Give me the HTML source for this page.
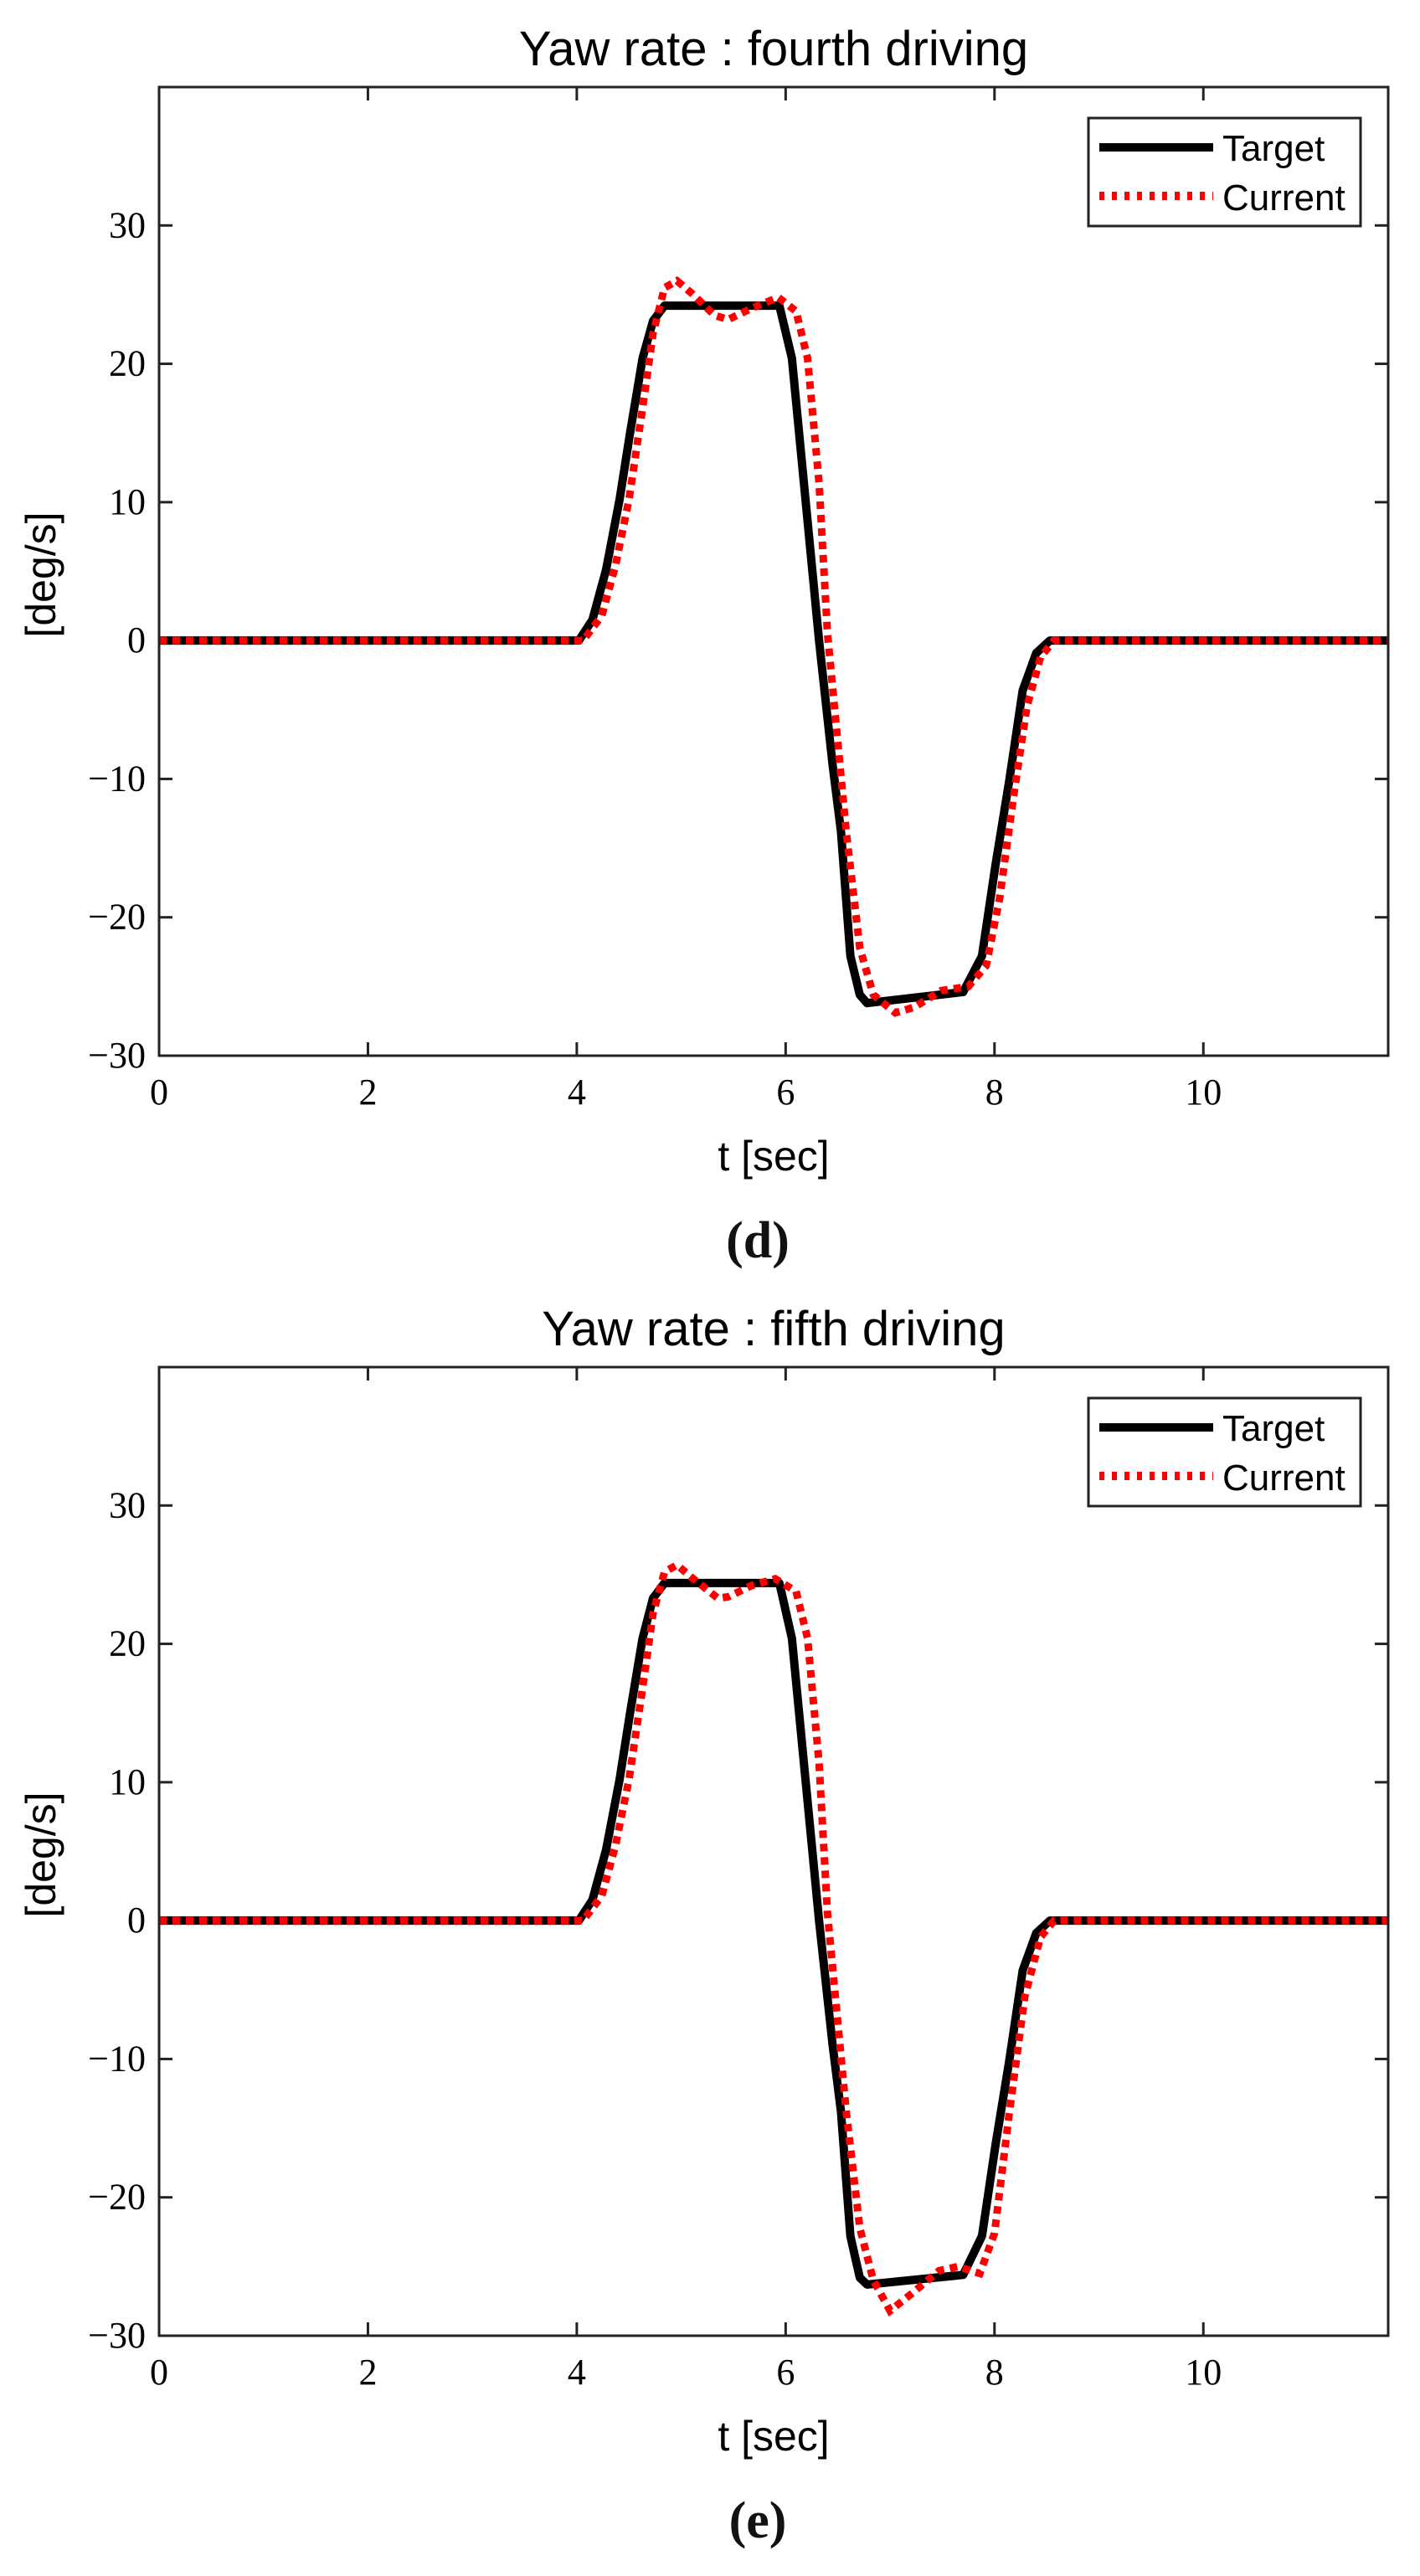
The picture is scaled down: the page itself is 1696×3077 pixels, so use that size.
<!DOCTYPE html>
<html><head><meta charset="utf-8"><style>
body{margin:0;background:#fff}
svg{display:block}
.tk{font-family:"Liberation Serif",serif;font-size:44px;fill:#000}
.lab{font-family:"Liberation Sans",sans-serif;fill:#000}
</style></head><body>
<svg id="fig" width="1696" height="3077" viewBox="0 0 1696 3077" xmlns="http://www.w3.org/2000/svg"></svg>
<script>
const xTicks=[0,2,4,6,8,10];
const yTicks=[-30,-20,-10,0,10,20,30];
const yTickLabels=["\u221230","\u221220","\u221210","0","10","20","30"];
const targetT=[0,4.02,4.15,4.28,4.41,4.51,4.63,4.73,4.84,5.94,6.06,6.19,6.32,6.45,6.53,6.62,6.71,6.78,7.7,7.88,8.01,8.14,8.27,8.4,8.53,11.77];
const targetD=[0,0,1.5,5.1,10.2,15,20.4,23.1,24.2,24.2,20.4,10.2,0,-9,-13.8,-22.8,-25.6,-26.2,-25.4,-22.8,-16.2,-10.2,-3.6,-0.9,0,0];
const currentDT=[0,4.06,4.24,4.37,4.5,4.63,4.73,4.84,4.96,5.1,5.32,5.45,5.67,5.93,6.1,6.21,6.32,6.4,6.49,6.58,6.71,6.84,7.05,7.23,7.49,7.75,7.92,8.05,8.18,8.31,8.44,8.57,11.77];
const currentD=[0,0,1.8,5.4,10.2,16.8,22.2,25.5,26,25.1,23.5,23.2,24,24.8,23.8,20.4,11.4,0.6,-6.6,-13.8,-22.2,-25.6,-26.9,-26.5,-25.3,-25,-23.5,-18.6,-11.4,-4.8,-1.2,0,0];
const targetE=[0,0,1.5,5.1,10.2,15,20.4,23.3,24.4,24.4,20.4,10.2,0,-9,-13.8,-22.8,-25.8,-26.3,-25.6,-22.8,-16.2,-10.2,-3.6,-0.9,0,0];
const currentET=[0,4.06,4.24,4.37,4.5,4.63,4.73,4.84,4.96,5.1,5.35,5.45,5.67,5.9,6.1,6.21,6.32,6.4,6.49,6.58,6.71,6.84,7.0,7.2,7.47,7.65,7.86,8.0,8.14,8.29,8.44,8.57,11.77];
const currentE=[0,0,1.8,5.4,10.2,16.8,22.2,25.2,25.7,24.8,23.3,23.4,24.2,24.7,23.8,20.4,11.4,0.6,-6.6,-13.8,-22.2,-26,-28.2,-27,-25.3,-25,-25.5,-22.6,-14,-5.5,-1.2,0,0];
const NS="http://www.w3.org/2000/svg";
const svg=document.getElementById('fig');
function el(tag,attrs,parent){const e=document.createElementNS(NS,tag);for(const k in attrs)e.setAttribute(k,attrs[k]);(parent||svg).appendChild(e);return e;}
function plot(top,title,letter,tT,tV,cT,cV,key){
  const L=190,R=1658,T=top,B=top+1157;
  const xs=t=>L+(t/11.77)*(R-L);
  const ys=v=>B-((v+30)/70)*(B-T);
  const g=el('g',{});
  
  
  const ti=el('text',{x:924,y:T-26,'text-anchor':'middle','font-size':58,class:'lab'},g);ti.textContent=title;
  
  xTicks.forEach(t=>{
    el('line',{x1:xs(t),x2:xs(t),y1:B,y2:B-16,stroke:'#222','stroke-width':3},g);
    el('line',{x1:xs(t),x2:xs(t),y1:T,y2:T+16,stroke:'#222','stroke-width':3},g);
    const tx=el('text',{x:xs(t),y:B+58,'text-anchor':'middle',class:'tk'},g);tx.textContent=String(t);
    
  });
  yTicks.forEach((v,i)=>{
    el('line',{x1:L,x2:L+16,y1:ys(v),y2:ys(v),stroke:'#222','stroke-width':3},g);
    el('line',{x1:R,x2:R-16,y1:ys(v),y2:ys(v),stroke:'#222','stroke-width':3},g);
    const ty=el('text',{x:174,y:ys(v)+14,'text-anchor':'end',class:'tk'},g);ty.textContent=yTickLabels[i];
    
  });
  const cp=document.createElementNS(NS,'clipPath');cp.setAttribute('id','cp'+key);g.appendChild(cp);
  el('rect',{x:L,y:T,width:R-L,height:B-T},cp);
  const p1=el('polyline',{points:tT.map((t,i)=>xs(t)+','+ys(tV[i])).join(' '),fill:'none',stroke:'#000','stroke-width':10,'stroke-linejoin':'round','clip-path':'url(#cp'+key+')'},g);
  
  const p2=el('polyline',{points:cT.map((t,i)=>xs(t)+','+ys(cV[i])).join(' '),fill:'none',stroke:'#f00','stroke-width':9,'stroke-dasharray':'9 7','clip-path':'url(#cp'+key+')'},g);
  
  el('rect',{x:L,y:T,width:R-L,height:B-T,fill:'none',stroke:'#222','stroke-width':3},g);
  const lg=el('g',{},g);
  
  el('rect',{x:1300,y:T+37,width:325,height:129,fill:'#fff',stroke:'#222','stroke-width':3},lg);
  el('line',{x1:1313,x2:1449,y1:T+72,y2:T+72,stroke:'#000','stroke-width':10},lg);
  el('line',{x1:1313,x2:1449,y1:T+130,y2:T+130,stroke:'#f00','stroke-width':10,'stroke-dasharray':'6 9'},lg);
  const l1=el('text',{x:1460,y:T+88,'font-size':44,class:'lab'},lg);l1.textContent='Target';
  
  const l2=el('text',{x:1460,y:T+147,'font-size':44,class:'lab'},lg);l2.textContent='Current';
  
  const xl=el('text',{x:924,y:B+137,'text-anchor':'middle','font-size':50,class:'lab'},g);xl.textContent='t [sec]';
  
  const yl=el('text',{x:0,y:0,'text-anchor':'middle','font-size':50,class:'lab',transform:'translate(66,'+((T+B)/2+4)+') rotate(-90)'},g);yl.textContent='[deg/s]';
  
  const cap=el('text',{x:905,y:B+241,'text-anchor':'middle','font-size':62,'font-weight':'bold','font-family':'Liberation Serif, serif',fill:'#111'},g);cap.textContent=letter;
  
}
plot(104,'Yaw rate : fourth driving','(d)',targetT,targetD,currentDT,currentD,'d');
plot(1633,'Yaw rate : fifth driving','(e)',targetT,targetE,currentET,currentE,'e');
</script>
</body></html>
